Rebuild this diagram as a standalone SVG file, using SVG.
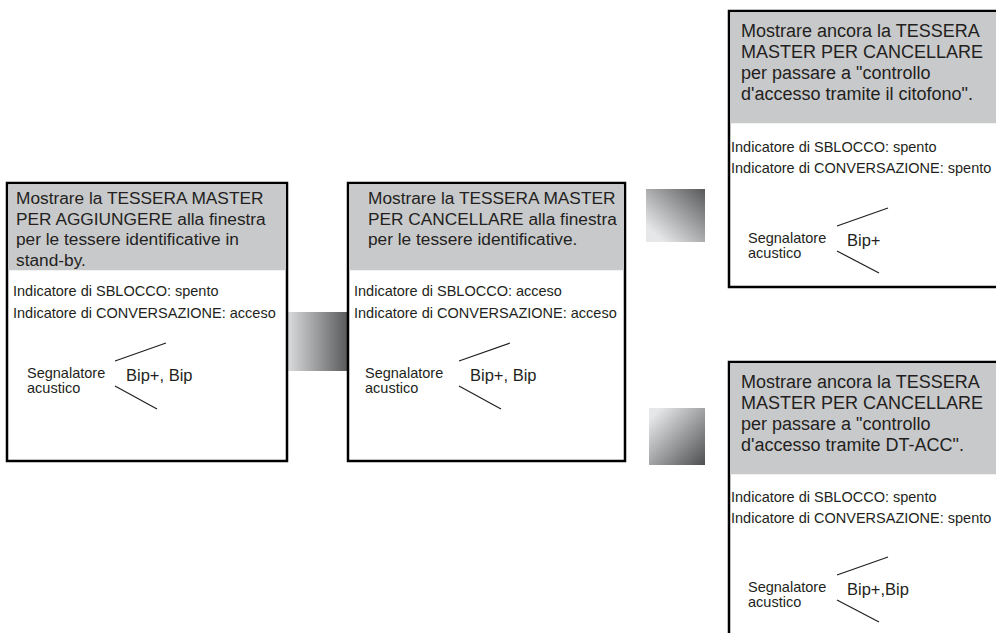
<svg xmlns="http://www.w3.org/2000/svg" width="996" height="633" viewBox="0 0 996 633">
<defs>
<linearGradient id="gH" x1="0" y1="0" x2="1" y2="0">
<stop offset="0" stop-color="#dcdddf"/>
<stop offset="1" stop-color="#58595b"/>
</linearGradient>
<linearGradient id="gUp" x1="0" y1="1" x2="1" y2="0">
<stop offset="0.15" stop-color="#e6e7e8"/>
<stop offset="1" stop-color="#58595b"/>
</linearGradient>
<linearGradient id="gDown" x1="0" y1="0" x2="1" y2="1">
<stop offset="0.1" stop-color="#e6e7e8"/>
<stop offset="1" stop-color="#4e4f51"/>
</linearGradient>
<style>
.frame{fill:#fff;stroke:#000;stroke-width:2.5}
.head{fill:#c8c9cb}
.h{font-family:"Liberation Sans",Arial,sans-serif;font-size:17.3px;fill:#231f20}
.h3{font-family:"Liberation Sans",Arial,sans-serif;font-size:18px;fill:#231f20}
.s{font-family:"Liberation Sans",Arial,sans-serif;font-size:14.5px;fill:#231f20}
.sg{font-family:"Liberation Sans",Arial,sans-serif;font-size:14.5px;fill:#231f20}
.bip{font-family:"Liberation Sans",Arial,sans-serif;font-size:16.5px;fill:#231f20}
.ln{stroke:#231f20;stroke-width:1.2;fill:none}
</style>
</defs>
<rect width="996" height="633" fill="#fff"/>

<g id="connectors">
<rect x="287" y="312" width="61" height="59" fill="url(#gH)"/>
<rect x="646" y="189" width="59" height="53" fill="url(#gUp)"/>
<rect x="649" y="408" width="56" height="57" fill="url(#gDown)"/>
</g>

<g id="node1">
<rect class="frame" x="7" y="183" width="280" height="278"/>
<rect class="head" x="8.25" y="184.25" width="277.5" height="86"/>
<text class="h" x="16" y="204">Mostrare la TESSERA MASTER</text>
<text class="h" x="16" y="224.5">PER AGGIUNGERE alla finestra</text>
<text class="h" x="16" y="245">per le tessere identificative in</text>
<text class="h" x="16" y="265.5">stand-by.</text>
<text class="s" x="13" y="296">Indicatore di SBLOCCO: spento</text>
<text class="s" x="13" y="318">Indicatore di CONVERSAZIONE: acceso</text>
<text class="sg" x="27" y="378">Segnalatore</text>
<text class="sg" x="27" y="393">acustico</text>
<text class="bip" x="126" y="381">Bip+, Bip</text>
<line class="ln" x1="115" y1="361" x2="166" y2="343"/>
<line class="ln" x1="115" y1="386" x2="157" y2="409"/>
</g>

<g id="node2">
<rect class="frame" x="348" y="183" width="277" height="278"/>
<rect class="head" x="349.25" y="184.25" width="274.5" height="86"/>
<text class="h" x="368" y="204">Mostrare la TESSERA MASTER</text>
<text class="h" x="368" y="224.5">PER CANCELLARE alla finestra</text>
<text class="h" x="368" y="245">per le tessere identificative.</text>
<text class="s" x="354" y="296">Indicatore di SBLOCCO: acceso</text>
<text class="s" x="354" y="318">Indicatore di CONVERSAZIONE: acceso</text>
<text class="sg" x="365" y="378">Segnalatore</text>
<text class="sg" x="365" y="393">acustico</text>
<text class="bip" x="470" y="381">Bip+, Bip</text>
<line class="ln" x1="459" y1="361" x2="510" y2="343"/>
<line class="ln" x1="459" y1="386" x2="501" y2="409"/>
</g>

<g id="node3">
<rect class="frame" x="729" y="11" width="290" height="276"/>
<rect class="head" x="730.25" y="12.25" width="270" height="111"/>
<text class="h3" x="741" y="37">Mostrare ancora la TESSERA</text>
<text class="h3" x="741" y="58">MASTER PER CANCELLARE</text>
<text class="h3" x="741" y="79">per passare a "controllo</text>
<text class="h3" x="741" y="100">d'accesso tramite il citofono".</text>
<text class="s" x="731" y="152">Indicatore di SBLOCCO: spento</text>
<text class="s" x="731" y="173">Indicatore di CONVERSAZIONE: spento</text>
<text class="sg" x="748" y="243">Segnalatore</text>
<text class="sg" x="748" y="258">acustico</text>
<text class="bip" x="847" y="246">Bip+</text>
<line class="ln" x1="837" y1="226" x2="888" y2="208"/>
<line class="ln" x1="837" y1="251" x2="879" y2="273"/>
</g>

<g id="node4">
<rect class="frame" x="729" y="362" width="290" height="300"/>
<rect class="head" x="730.25" y="363.25" width="270" height="111"/>
<text class="h3" x="741" y="388">Mostrare ancora la TESSERA</text>
<text class="h3" x="741" y="409">MASTER PER CANCELLARE</text>
<text class="h3" x="741" y="430">per passare a "controllo</text>
<text class="h3" x="741" y="451">d'accesso tramite DT-ACC".</text>
<text class="s" x="731" y="502">Indicatore di SBLOCCO: spento</text>
<text class="s" x="731" y="523">Indicatore di CONVERSAZIONE: spento</text>
<text class="sg" x="748" y="592">Segnalatore</text>
<text class="sg" x="748" y="607">acustico</text>
<text class="bip" x="847" y="595">Bip+,Bip</text>
<line class="ln" x1="837" y1="575" x2="888" y2="557"/>
<line class="ln" x1="837" y1="600" x2="879" y2="622"/>
</g>
</svg>
